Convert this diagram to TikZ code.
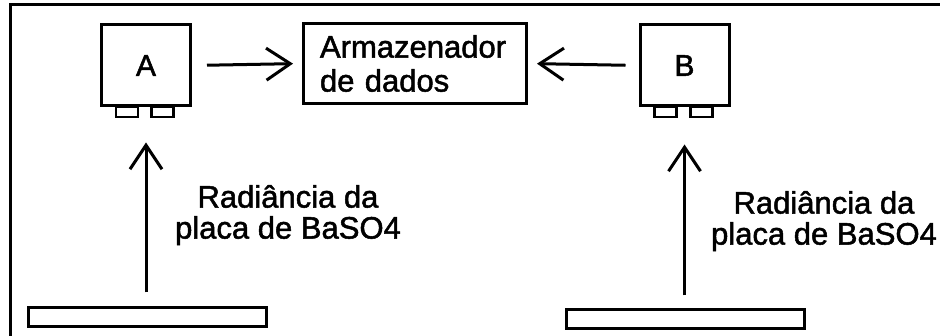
\documentclass[tikz,border=0pt]{standalone}
\usepackage{fontspec}
\setmainfont[FakeBold=1.6]{Liberation Sans}
\usetikzlibrary{arrows.meta}
\tikzset{
  lw/.style={line width=3pt},
  unitbox/.style={draw, lw, minimum width=89pt, minimum height=81pt, inner sep=0pt,
    font=\fontsize{30}{30}\selectfont},
  footbox/.style={draw, line width=2.5pt, minimum width=22pt, minimum height=10pt, inner sep=0pt},
  platebox/.style={draw, lw, minimum width=238pt, minimum height=19pt, inner sep=0pt},
  storebox/.style={draw, lw, minimum height=80pt, align=left, text width=190pt, inner xsep=16.5pt,
    font=\fontsize{31}{34}\selectfont},
  lbl/.style={align=center, inner sep=0pt, font=\fontsize{31}{31}\selectfont},
  arr/.style={lw, -{Straight Barb[length=24pt,width=32pt]}},
}
\begin{document}
\begin{tikzpicture}[x=1pt,y=-1pt]
\useasboundingbox (0,0) rectangle (940,336);
\fill[white] (0,0) rectangle (940,336);
% frame
\draw[lw] (10,340) -- (10,5) -- (945,5);
% units
\node[unitbox] (A) at (146,65.5) {A};
\node[unitbox] (B) at (684.5,65.5) {B};
\node[footbox, anchor=north] (A1) at (127,106) {};
\node[footbox, anchor=north] (A2) at (162.5,106) {};
\node[footbox, anchor=north] (B1) at (665.5,106) {};
\node[footbox, anchor=north] (B2) at (701.5,106) {};
% storage
\node[storebox] (S) at (415,63.5) {Armazenador\\de dados};
% plates
\node[platebox] (PA) at (147,317.5) {};
\node[platebox] (PB) at (685.5,319.5) {};
% labels
\node[lbl] (LA) at (288,215) {Radiância da\\placa de BaSO4};
\node[lbl] (LB) at (824,221) {Radiância da\\placa de BaSO4};
% arrows
\draw[arr, shorten <=15pt, shorten >=9pt] (A.east) -- (S.west);
\draw[arr, shorten <=13pt, shorten >=9pt] (B.west) -- (S.east);
\draw[arr, shorten <=14pt, shorten >=35pt] (PA.north -| A.south) -- (A.south);
\draw[arr, shorten <=13pt, shorten >=37pt] (PB.north -| B.south) -- (B.south);
\end{tikzpicture}
\end{document}
